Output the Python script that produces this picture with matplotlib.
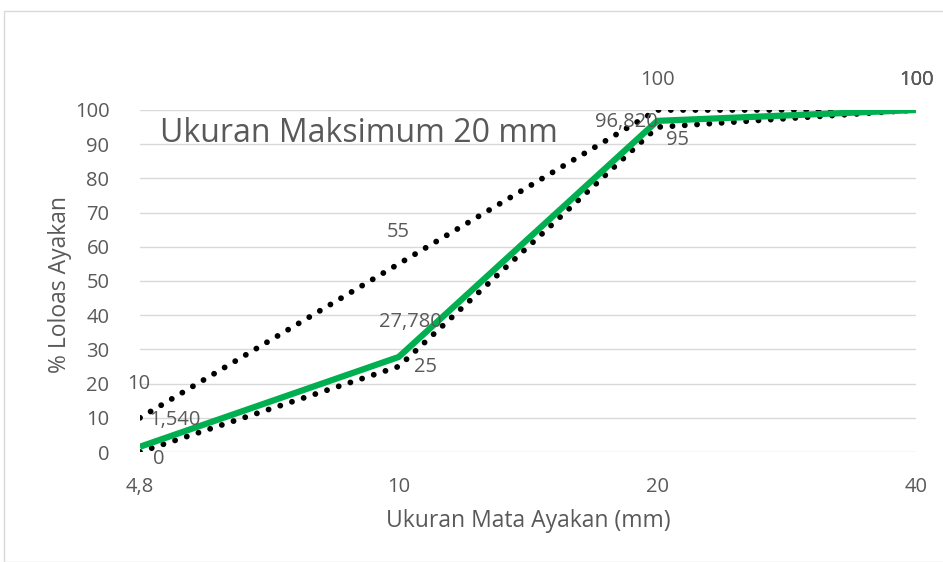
import matplotlib
matplotlib.use("Agg")
import matplotlib.pyplot as plt
from matplotlib.patches import Rectangle

categories = ["4,8", "10", "20", "40"]
upper = [10, 55, 100, 100]
lower = [0, 25, 95, 100]
passing = [1.540, 27.780, 96.820, 100]
passing_labels = ["1,540", "27,780", "96,820", "100"]
yticks = [0, 10, 20, 30, 40, 50, 60, 70, 80, 90, 100]

plt.rcParams['font.family'] = ['Open Sans', 'DejaVu Sans']
txt = '#595959'

W, H = 943, 562
fig = plt.figure(figsize=(W / 100, H / 100), dpi=100)
ax = fig.add_axes([140 / W, 1 - 452 / H, (916 - 140) / W, (452 - 110) / H])

x = list(range(len(categories)))

dots = (0, (0.01, 2.1))
ax.plot(x, upper, color='black', lw=4.2, linestyle=dots, dash_capstyle='round', zorder=3)
ax.plot(x, lower, color='black', lw=4.2, linestyle=dots, dash_capstyle='round', zorder=3)
ax.plot(x, passing, color='#999999', lw=1.5, zorder=3.5)
ax.plot(x, passing, color='#00B050', lw=4.5, zorder=4, solid_capstyle='butt')

ax.set_xlim(0, 3)
ax.set_ylim(0, 100)
ax.set_yticks(yticks)
ax.set_xticks(x)
ax.set_xticklabels(categories)
ax.grid(axis='y', color='#d9d9d9', lw=1)
ax.set_axisbelow(True)
for s in ax.spines.values():
    s.set_visible(False)
ax.tick_params(length=0, labelsize=14.5, labelcolor=txt)
ax.tick_params(axis='x', pad=18)
ax.tick_params(axis='y', pad=22)

ax.set_xlabel("Ukuran Mata Ayakan (mm)", fontsize=16.5, color=txt, va='center')
ax.set_ylabel("% Loloas Ayakan", fontsize=16.5, color=txt, va='center')
ax.xaxis.set_label_coords((528 - 140) / 776, (452 - 521) / 342)
ax.yaxis.set_label_coords((60 - 140) / 776, (452 - 285) / 342)

fs = 14.5
def lab(xi, yi, s, dx, dy):
    # dx: pixels right, dy: pixels down from the data point
    ax.annotate(s, (xi, yi), xytext=(dx, -dy), textcoords='offset pixels',
                ha='center', va='center', fontsize=fs, color=txt,
                annotation_clip=False, zorder=6)

# upper limit labels
lab(0, upper[0], "10", -1, -34)
lab(1, upper[1], "55", 0, -32)
lab(2, upper[2], "100", 0, -30)
lab(3, upper[3], "100", 0, -30)
# lower limit labels
lab(0, lower[0], "0", 19, 7)
lab(1, lower[1], "25", 27, 1)
lab(2, lower[2], "95", 20, 13)
lab(3, lower[3], "100", 0, -30)
# passing labels
lab(0, passing[0], passing_labels[0], 35, -27)
lab(1, passing[1], passing_labels[1], 12, -35)
lab(2, passing[2], passing_labels[2], -31, 1)
lab(3, passing[3], passing_labels[3], 0, -30)

ax.text((160 - 140) / 776, (452 - 134) / 342, "Ukuran Maksimum 20 mm",
        transform=ax.transAxes, fontsize=23, color=txt, ha='left', va='center')

fig.patches.append(Rectangle((4 / W, 0), 1.0, 1 - 11 / H, transform=fig.transFigure,
                             fill=False, edgecolor='#d9d9d9', lw=1))

fig.savefig("out.png", dpi=100)
